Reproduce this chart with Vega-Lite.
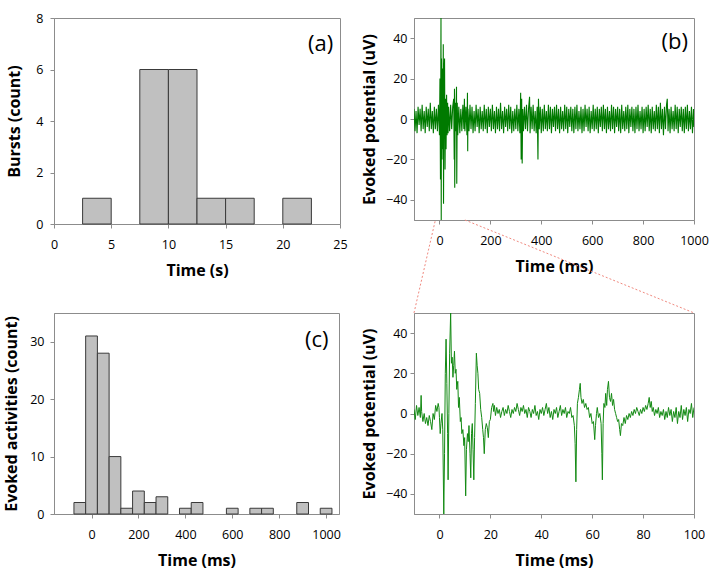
{
  "$schema": "https://vega.github.io/schema/vega-lite/v6.json",
  "padding": {"left": 3, "top": 11, "right": 4, "bottom": 4},
  "background": "white",
  "bounds": "flush",
  "config": {
    "font": "Open Sans",
    "view": {"stroke": "#8c8c8c", "strokeWidth": 1},
    "axis": {"grid": false, "domainColor": "#8c8c8c", "tickColor": "#8c8c8c", "labelFont": "Open Sans", "labelFontSize": 12.5, "labelColor": "#000000", "titleFont": "Open Sans", "titleFontSize": 16, "titleFontWeight": "bold", "titleColor": "#000000", "tickSize": 4, "format": "d", "labelFlush": false, "labelOverlap": false},
    "axisX": {"labelPadding": 10, "titlePadding": 12},
    "axisY": {"labelPadding": 3, "titlePadding": 8}
  },
  "datasets": {
    "bursts": [
      {"start": 2.5, "end": 5, "count": 1},
      {"start": 7.5, "end": 10, "count": 6},
      {"start": 10, "end": 12.5, "count": 6},
      {"start": 12.5, "end": 15, "count": 1},
      {"start": 15, "end": 17.5, "count": 1},
      {"start": 20, "end": 22.5, "count": 1}
    ],
    "evoked": [
      {"start": -75, "end": -25, "count": 2},
      {"start": -25, "end": 25, "count": 31},
      {"start": 25, "end": 75, "count": 28},
      {"start": 75, "end": 125, "count": 10},
      {"start": 125, "end": 175, "count": 1},
      {"start": 175, "end": 225, "count": 4},
      {"start": 225, "end": 275, "count": 2},
      {"start": 275, "end": 325, "count": 3},
      {"start": 375, "end": 425, "count": 1},
      {"start": 425, "end": 475, "count": 2},
      {"start": 575, "end": 625, "count": 1},
      {"start": 675, "end": 725, "count": 1},
      {"start": 725, "end": 775, "count": 1},
      {"start": 875, "end": 925, "count": 2},
      {"start": 975, "end": 1025, "count": 1}
    ],
    "zoomlines": [
      {"side": "left", "t": -16, "v": -50},
      {"side": "left", "t": -100, "v": -96},
      {"side": "right", "t": 100, "v": -50},
      {"side": "right", "t": 1000, "v": -96}
    ],
    "trace": [
      {"t":-100,"v":5},{"t":-96,"v":-6},{"t":-92,"v":4},{"t":-88,"v":-7},{"t":-84,"v":6},{"t":-80,"v":-3},{"t":-76,"v":5},{"t":-72,"v":-6},{"t":-68,"v":7},{"t":-64,"v":-5},{"t":-60,"v":4},{"t":-56,"v":-7},{"t":-52,"v":6},{"t":-48,"v":-4},{"t":-44,"v":5},{"t":-40,"v":-6},{"t":-36,"v":8},{"t":-32,"v":-5},{"t":-28,"v":4},{"t":-24,"v":-7},{"t":-20,"v":6},{"t":-16,"v":-5},{"t":-12,"v":5},{"t":-8,"v":-6},{"t":-4,"v":7},{"t":0,"v":-8},
      {"t":2,"v":20},{"t":4,"v":-30},{"t":6,"v":50},{"t":7,"v":-50},{"t":8,"v":30},{"t":10,"v":-20},{"t":12,"v":25},{"t":14,"v":-15},{"t":15,"v":37},{"t":16,"v":-42},{"t":18,"v":20},{"t":20,"v":30},{"t":22,"v":-25},{"t":24,"v":10},{"t":26,"v":-15},{"t":28,"v":12},{"t":30,"v":-8},{"t":32,"v":8},{"t":34,"v":-7},{"t":36,"v":6},{"t":40,"v":-6},{"t":44,"v":7},{"t":48,"v":-5},{"t":52,"v":6},{"t":56,"v":10},{"t":58,"v":-20},{"t":59,"v":15},{"t":60,"v":-34},{"t":62,"v":8},{"t":64,"v":-6},{"t":66,"v":10},{"t":67,"v":16},{"t":68,"v":-32},{"t":70,"v":8},{"t":72,"v":-8},{"t":76,"v":6},{"t":80,"v":-7},{"t":84,"v":5},{"t":88,"v":-6},{"t":92,"v":7},{"t":96,"v":-5},{"t":98,"v":10},{"t":100,"v":-6},{"t":104,"v":6},{"t":108,"v":-8},{"t":110,"v":13},{"t":111,"v":-16},{"t":112,"v":5},{"t":116,"v":-6},{"t":120,"v":7},
      {"t":124,"v":-5},{"t":128,"v":6},{"t":132,"v":-7},{"t":136,"v":4},{"t":140,"v":-6},{"t":144,"v":7},{"t":148,"v":-4},{"t":152,"v":5},{"t":156,"v":-7},{"t":160,"v":6},{"t":164,"v":-5},{"t":168,"v":4},{"t":172,"v":-6},{"t":176,"v":7},{"t":180,"v":-5},{"t":184,"v":5},{"t":188,"v":-7},{"t":192,"v":6},{"t":196,"v":-4},{"t":200,"v":5},{"t":204,"v":-6},{"t":208,"v":7},{"t":212,"v":-5},{"t":216,"v":4},{"t":220,"v":-7},{"t":224,"v":6},{"t":228,"v":-5},{"t":232,"v":5},{"t":236,"v":-6},{"t":240,"v":8},{"t":244,"v":-5},{"t":248,"v":4},{"t":252,"v":-7},{"t":256,"v":6},{"t":260,"v":-4},{"t":264,"v":5},{"t":268,"v":-6},{"t":272,"v":7},{"t":276,"v":-5},{"t":280,"v":6},{"t":284,"v":-7},{"t":288,"v":4},{"t":292,"v":-6},{"t":296,"v":5},{"t":300,"v":-5},{"t":304,"v":7},{"t":308,"v":-6},{"t":312,"v":5},{"t":316,"v":-7},{"t":319,"v":13},{"t":321,"v":-20},{"t":323,"v":10},{"t":325,"v":-22},{"t":327,"v":5},{"t":330,"v":-6},{"t":334,"v":6},{"t":338,"v":-5},{"t":342,"v":7},{"t":346,"v":-6},{"t":350,"v":5},{"t":354,"v":11},{"t":356,"v":-7},{"t":360,"v":6},{"t":364,"v":-5},{"t":368,"v":7},{"t":372,"v":-6},{"t":376,"v":4},{"t":380,"v":-7},{"t":384,"v":6},{"t":387,"v":-20},{"t":389,"v":10},{"t":392,"v":-5},{"t":396,"v":6},{"t":400,"v":-7},{"t":404,"v":5},{"t":408,"v":-6},{"t":412,"v":7},{"t":416,"v":-5},{"t":420,"v":4},{"t":424,"v":-6},{"t":428,"v":7},{"t":432,"v":-5},{"t":436,"v":6},{"t":440,"v":-7},{"t":444,"v":5},{"t":448,"v":-4},{"t":452,"v":6},{"t":456,"v":-6},{"t":460,"v":7},{"t":464,"v":-5},{"t":468,"v":5},{"t":472,"v":-7},{"t":476,"v":6},{"t":480,"v":-5},{"t":484,"v":4},{"t":488,"v":-6},{"t":492,"v":7},{"t":496,"v":-5},{"t":500,"v":6},{"t":504,"v":-7},{"t":508,"v":5},{"t":512,"v":-4},{"t":516,"v":6},{"t":520,"v":-6},{"t":524,"v":5},{"t":528,"v":-7},{"t":532,"v":6},{"t":536,"v":-5},{"t":540,"v":7},{"t":544,"v":-6},{"t":548,"v":4},{"t":552,"v":-5},{"t":556,"v":6},{"t":560,"v":-7},{"t":564,"v":5},{"t":568,"v":-6},{"t":572,"v":7},{"t":576,"v":-4},{"t":580,"v":5},{"t":584,"v":-6},{"t":588,"v":6},{"t":592,"v":-7},{"t":596,"v":4},{"t":600,"v":-5},{"t":604,"v":7},{"t":608,"v":-6},{"t":612,"v":5},{"t":616,"v":-5},{"t":620,"v":6},{"t":624,"v":-7},{"t":628,"v":5},{"t":632,"v":-4},{"t":636,"v":6},{"t":640,"v":-6},{"t":644,"v":7},{"t":648,"v":-5},{"t":652,"v":5},{"t":656,"v":-7},{"t":660,"v":6},{"t":664,"v":-5},{"t":668,"v":4},{"t":672,"v":-6},{"t":676,"v":7},{"t":680,"v":-5},{"t":684,"v":6},{"t":688,"v":-7},{"t":692,"v":5},{"t":696,"v":-4},{"t":700,"v":6},{"t":704,"v":-6},{"t":708,"v":5},{"t":712,"v":-7},{"t":716,"v":7},{"t":720,"v":-5},{"t":724,"v":4},{"t":728,"v":-6},{"t":732,"v":6},{"t":736,"v":-5},{"t":740,"v":7},{"t":744,"v":-7},{"t":748,"v":5},{"t":752,"v":-4},{"t":756,"v":6},{"t":760,"v":-6},{"t":764,"v":5},{"t":768,"v":-7},{"t":772,"v":6},{"t":776,"v":-5},{"t":780,"v":7},{"t":784,"v":-6},{"t":788,"v":4},{"t":792,"v":-5},{"t":796,"v":6},{"t":800,"v":-7},{"t":804,"v":5},{"t":808,"v":-6},{"t":812,"v":6},{"t":816,"v":-4},{"t":820,"v":7},{"t":824,"v":-6},{"t":828,"v":5},{"t":832,"v":-7},{"t":836,"v":6},{"t":840,"v":-5},{"t":844,"v":4},{"t":848,"v":-6},{"t":852,"v":7},{"t":856,"v":-5},{"t":860,"v":6},{"t":864,"v":-7},{"t":868,"v":8},{"t":872,"v":-5},{"t":876,"v":5},{"t":880,"v":-8},{"t":884,"v":6},{"t":888,"v":-5},{"t":892,"v":7},{"t":895,"v":10},{"t":898,"v":-6},{"t":902,"v":5},{"t":906,"v":-7},{"t":910,"v":6},{"t":914,"v":-5},{"t":918,"v":4},{"t":922,"v":-6},{"t":926,"v":7},{"t":930,"v":-5},{"t":934,"v":6},{"t":938,"v":-7},{"t":942,"v":5},{"t":946,"v":-4},{"t":950,"v":6},{"t":954,"v":-6},{"t":958,"v":5},{"t":962,"v":-7},{"t":966,"v":6},{"t":970,"v":-5},{"t":974,"v":7},{"t":978,"v":-6},{"t":982,"v":4},{"t":986,"v":-5},{"t":990,"v":6},{"t":994,"v":-7},{"t":998,"v":5},{"t":1000,"v":-4}
    ],
    "detail": [
      {"t":-10,"v":2},{"t":-9.5,"v":-3},{"t":-9,"v":4},{"t":-8.5,"v":-1},{"t":-8,"v":3},{"t":-7.5,"v":-2},{"t":-7.2,"v":9},{"t":-7,"v":1},{"t":-6.5,"v":-4},{"t":-6,"v":0},{"t":-5.5,"v":-5},{"t":-5,"v":-2},{"t":-4.5,"v":-6},{"t":-4,"v":-1},{"t":-3.5,"v":-4},{"t":-3,"v":-8},{"t":-2.5,"v":0},{"t":-2,"v":-3},{"t":-1.5,"v":4},{"t":-1,"v":1},{"t":-0.5,"v":5},{"t":-0.2,"v":3},{"t":0,"v":-2},{"t":0.3,"v":-10},{"t":0.6,"v":-5},{"t":1,"v":0},{"t":1.3,"v":-8},{"t":1.7,"v":-50},{"t":2.0,"v":-20},{"t":2.3,"v":20},{"t":2.6,"v":37},{"t":2.9,"v":15},{"t":3.2,"v":-10},{"t":3.4,"v":-33},{"t":3.7,"v":0},{"t":4.0,"v":30},{"t":4.4,"v":50},{"t":4.7,"v":25},{"t":5.0,"v":28},{"t":5.3,"v":18},{"t":5.6,"v":24},{"t":5.9,"v":31},{"t":6.2,"v":20},{"t":6.5,"v":22},{"t":6.8,"v":12},{"t":7.2,"v":16},{"t":7.5,"v":3},{"t":7.8,"v":8},{"t":8.2,"v":-4},{"t":8.5,"v":-2},{"t":8.8,"v":-10},{"t":9.2,"v":-8},{"t":9.6,"v":-16},{"t":9.9,"v":-12},{"t":10.3,"v":-41},{"t":10.6,"v":-18},{"t":11.0,"v":-10},{"t":11.3,"v":-14},{"t":11.6,"v":-6},{"t":12.0,"v":-20},{"t":12.3,"v":-32},{"t":12.6,"v":-10},{"t":12.9,"v":-5},{"t":13.2,"v":-18},{"t":13.5,"v":-33},{"t":13.8,"v":-12},{"t":14.1,"v":5},{"t":14.5,"v":30},{"t":14.8,"v":24},{"t":15.1,"v":20},{"t":15.4,"v":12},{"t":15.8,"v":10},{"t":16.2,"v":2},{"t":16.6,"v":-2},{"t":17.0,"v":-8},{"t":17.3,"v":-12},{"t":17.6,"v":-20},{"t":18.0,"v":-8},{"t":18.4,"v":-5},{"t":18.8,"v":-7},{"t":19.2,"v":-12},{"t":19.6,"v":-4},{"t":20.0,"v":-3},{"t":20.5,"v":3},{"t":21.0,"v":5},{"t":21.3,"v":1},{"t":21.6,"v":4},{"t":22.0,"v":-1},{"t":22.5,"v":3},{"t":23.0,"v":0},{"t":23.5,"v":2},{"t":24.0,"v":-2},{"t":24.5,"v":1},{"t":25.0,"v":3},{"t":25.5,"v":-1},{"t":26.0,"v":2},{"t":26.5,"v":0},{"t":27.0,"v":4},{"t":27.5,"v":1},{"t":28.0,"v":-2},{"t":28.5,"v":2},{"t":29,"v":0},{"t":29.5,"v":3},{"t":30,"v":1},{"t":30.5,"v":5},{"t":31,"v":2},{"t":31.5,"v":-1},{"t":32,"v":3},{"t":32.5,"v":1},{"t":33,"v":4},{"t":33.5,"v":0},{"t":34,"v":2},{"t":34.5,"v":-2},{"t":35,"v":3},{"t":35.5,"v":1},{"t":36,"v":-2},{"t":36.5,"v":2},{"t":37,"v":0},{"t":37.5,"v":4},{"t":38,"v":-1},{"t":38.5,"v":1},{"t":39,"v":-3},{"t":39.5,"v":2},{"t":40,"v":0},{"t":40.5,"v":3},{"t":41,"v":-1},{"t":41.5,"v":2},{"t":42,"v":5},{"t":42.5,"v":0},{"t":43,"v":3},{"t":43.5,"v":-2},{"t":44,"v":1},{"t":44.5,"v":-3},{"t":45,"v":2},{"t":45.5,"v":0},{"t":46,"v":3},{"t":46.5,"v":-2},{"t":47,"v":1},{"t":47.5,"v":4},{"t":48,"v":-1},{"t":48.5,"v":2},{"t":49,"v":0},{"t":49.5,"v":3},{"t":50,"v":-2},{"t":50.5,"v":1},{"t":51,"v":0},{"t":51.5,"v":3},{"t":52,"v":-2},{"t":52.5,"v":-1},{"t":53,"v":-6},{"t":53.3,"v":-15},{"t":53.6,"v":-34},{"t":53.9,"v":-8},{"t":54.2,"v":5},{"t":54.6,"v":8},{"t":55.0,"v":12},{"t":55.3,"v":15},{"t":55.6,"v":8},{"t":56.0,"v":5},{"t":56.5,"v":7},{"t":57.0,"v":3},{"t":57.5,"v":5},{"t":58.0,"v":2},{"t":58.5,"v":3},{"t":59.0,"v":-2},{"t":59.5,"v":0},{"t":60.0,"v":-5},{"t":60.5,"v":-4},{"t":61.0,"v":-13},{"t":61.3,"v":-6},{"t":61.7,"v":0},{"t":62.0,"v":3},{"t":62.5,"v":-2},{"t":63.0,"v":0},{"t":63.5,"v":-5},{"t":63.8,"v":-20},{"t":64.0,"v":-33},{"t":64.3,"v":-5},{"t":64.6,"v":5},{"t":65.0,"v":3},{"t":65.3,"v":10},{"t":65.7,"v":4},{"t":66.0,"v":12},{"t":66.4,"v":16},{"t":66.8,"v":8},{"t":67.2,"v":6},{"t":67.6,"v":10},{"t":68.0,"v":4},{"t":68.4,"v":7},{"t":68.8,"v":2},{"t":69.2,"v":0},{"t":69.6,"v":-2},{"t":70.0,"v":-4},{"t":70.4,"v":-3},{"t":70.8,"v":-8},{"t":71.1,"v":-11},{"t":71.5,"v":-5},{"t":72.0,"v":-6},{"t":72.5,"v":-2},{"t":73.0,"v":-5},{"t":73.5,"v":-1},{"t":74.0,"v":-3},{"t":74.5,"v":0},{"t":75.0,"v":-2},{"t":75.5,"v":1},{"t":76.0,"v":-1},{"t":76.5,"v":2},{"t":77,"v":0},{"t":77.5,"v":3},{"t":78,"v":1},{"t":78.5,"v":-1},{"t":79,"v":2},{"t":79.5,"v":0},{"t":80,"v":3},{"t":80.5,"v":1},{"t":81,"v":4},{"t":81.5,"v":2},{"t":82,"v":5},{"t":82.4,"v":8},{"t":82.8,"v":3},{"t":83.2,"v":6},{"t":83.6,"v":1},{"t":84,"v":3},{"t":84.5,"v":-1},{"t":85,"v":2},{"t":85.5,"v":0},{"t":86,"v":3},{"t":86.5,"v":-2},{"t":87,"v":1},{"t":87.5,"v":-1},{"t":88,"v":2},{"t":88.5,"v":-3},{"t":89,"v":1},{"t":89.5,"v":-2},{"t":90,"v":3},{"t":90.5,"v":-1},{"t":91,"v":2},{"t":91.5,"v":-4},{"t":92,"v":1},{"t":92.5,"v":-2},{"t":93,"v":3},{"t":93.5,"v":-5},{"t":94,"v":1},{"t":94.5,"v":-2},{"t":95,"v":4},{"t":95.5,"v":-3},{"t":96,"v":2},{"t":96.5,"v":-1},{"t":97,"v":3},{"t":97.5,"v":-4},{"t":98,"v":2},{"t":98.5,"v":0},{"t":99,"v":5},{"t":99.5,"v":-2},{"t":100,"v":3}
    ]
  },
  "columns": 2,
  "spacing": {"row": 89, "column": 74},
  "concat": [
    {
      "width": 286, "height": 206,
      "layer": [
        {
          "data": {"name": "bursts"},
          "mark": {"type": "rect", "fill": "#c0c0c0", "stroke": "#3a3a3a", "strokeWidth": 1},
          "encoding": {
            "x": {"field": "start", "type": "quantitative", "scale": {"domain": [0, 25], "nice": false}, "axis": {"values": [0, 5, 10, 15, 20, 25], "title": "Time (s)"}},
            "x2": {"field": "end"},
            "y": {"field": "count", "type": "quantitative", "scale": {"domain": [0, 8], "nice": false}, "axis": {"values": [0, 2, 4, 6, 8], "title": "Bursts (count)", "labelPadding": 7, "titlePadding": 13}},
            "y2": {"datum": 0}
          }
        },
        {
          "data": {"values": [{"label": "(a)"}]},
          "mark": {"type": "text", "fontSize": 22, "align": "right", "baseline": "middle", "font": "Open Sans"},
          "encoding": {"text": {"field": "label"}, "x": {"datum": 24.4}, "y": {"datum": 7.0}}
        }
      ]
    },
    {
      "width": 280, "height": 202,
      "layer": [
        {
          "data": {"name": "trace"},
          "mark": {"type": "line", "color": "#007a00", "strokeWidth": 1.1, "clip": true},
          "encoding": {
            "x": {"field": "t", "type": "quantitative", "scale": {"domain": [-100, 1000], "nice": false}, "axis": {"values": [0, 200, 400, 600, 800, 1000], "title": "Time (ms)"}},
            "y": {"field": "v", "type": "quantitative", "scale": {"domain": [-50, 50], "nice": false}, "axis": {"values": [-40, -20, 0, 20, 40], "title": "Evoked potential (uV)"}}
          }
        },
        {
          "data": {"name": "zoomlines"},
          "mark": {"type": "line", "color": "#f08a80", "strokeWidth": 1, "strokeDash": [2, 2]},
          "encoding": {"x": {"field": "t", "type": "quantitative"}, "y": {"field": "v", "type": "quantitative"}, "detail": {"field": "side"}}
        },
        {
          "mark": {"type": "rect", "fill": null, "stroke": "#e0302a", "strokeWidth": 1, "strokeDash": [3, 2]},
          "encoding": {"x": {"datum": -16}, "x2": {"datum": 100}, "y": {"datum": -50}, "y2": {"datum": 50}}
        },
        {
          "data": {"values": [{"label": "(b)"}]},
          "mark": {"type": "text", "fontSize": 22, "align": "right", "baseline": "middle", "font": "Open Sans"},
          "encoding": {"text": {"field": "label"}, "x": {"datum": 976}, "y": {"datum": 38.3}}
        }
      ]
    },
    {
      "width": 285, "height": 201,
      "layer": [
        {
          "data": {"name": "evoked"},
          "mark": {"type": "rect", "fill": "#c0c0c0", "stroke": "#3a3a3a", "strokeWidth": 1},
          "encoding": {
            "x": {"field": "start", "type": "quantitative", "scale": {"domain": [-160, 1055], "nice": false}, "axis": {"values": [0, 200, 400, 600, 800, 1000], "title": "Time (ms)"}},
            "x2": {"field": "end"},
            "y": {"field": "count", "type": "quantitative", "scale": {"domain": [0, 35], "nice": false}, "axis": {"values": [0, 5, 10, 15, 20, 25, 30, 35], "title": "Evoked activities (count)", "labelPadding": 6, "titlePadding": 10}},
            "y2": {"datum": 0}
          }
        },
        {
          "data": {"values": [{"label": "(c)"}]},
          "mark": {"type": "text", "fontSize": 22, "align": "right", "baseline": "middle", "font": "Open Sans"},
          "encoding": {"text": {"field": "label"}, "x": {"datum": 1010}, "y": {"datum": 30.3}}
        }
      ]
    },
    {
      "width": 280, "height": 201,
      "layer": [
        {
          "data": {"name": "detail"},
          "mark": {"type": "line", "color": "#138a13", "strokeWidth": 1, "clip": true},
          "encoding": {
            "x": {"field": "t", "type": "quantitative", "scale": {"domain": [-10, 100], "nice": false}, "axis": {"values": [0, 20, 40, 60, 80, 100], "title": "Time (ms)"}},
            "y": {"field": "v", "type": "quantitative", "scale": {"domain": [-50, 50], "nice": false}, "axis": {"values": [-40, -20, 0, 20, 40], "title": "Evoked potential (uV)"}}
          }
        }
      ]
    }
  ]
}
